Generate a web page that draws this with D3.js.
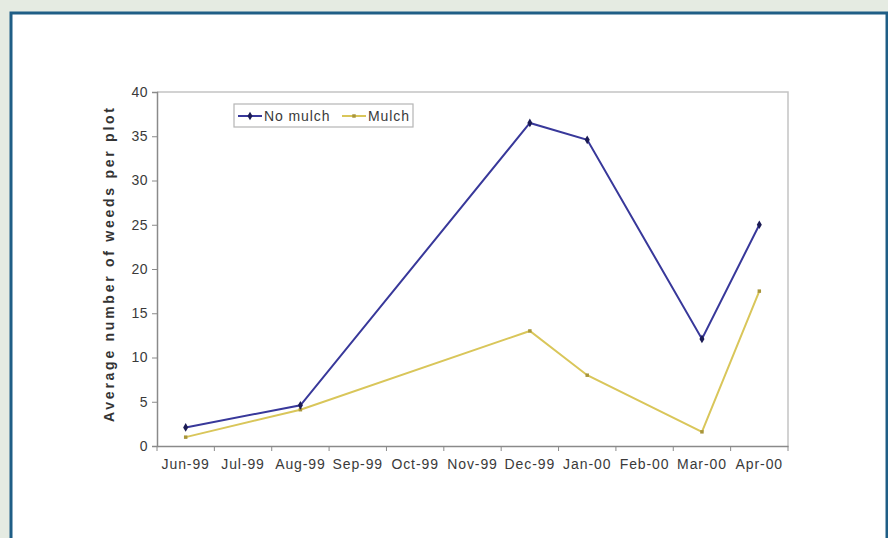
<!DOCTYPE html>
<html>
<head>
<meta charset="utf-8">
<script src="https://cdn.jsdelivr.net/npm/d3@7"></script>
<style>
  html, body { margin: 0; padding: 0; background: #e5ebe2; }
  svg { display: block; }
</style>
</head>
<body>
<svg id="chart" width="888" height="538"></svg>
<script>
// Sampling months shown on the axis
const months = ["Jun-99", "Jul-99", "Aug-99", "Sep-99", "Oct-99", "Nov-99",
                "Dec-99", "Jan-00", "Feb-00", "Mar-00", "Apr-00"];
// Months in which weeds were counted
const sampleMonths = ["Jun-99", "Aug-99", "Dec-99", "Jan-00", "Mar-00", "Apr-00"];
const noMulch = [2.1, 4.6, 36.5, 34.6, 12.1, 25.0];
const mulch   = [1.0, 4.1, 13.0, 8.0, 1.6, 17.5];
const yTicks  = [0, 5, 10, 15, 20, 25, 30, 35, 40];

const seriesList = [
  { name: "No mulch", values: noMulch, line: "#38389a", mark: "#1b1b55", shape: d3.symbolDiamond, size: 22 },
  { name: "Mulch",    values: mulch,   line: "#d9c65a", mark: "#a8953a", shape: d3.symbolSquare,  size: 12 }
];

const svg = d3.select("#chart");
const font = "'Liberation Sans', Arial, sans-serif";

// White panel with a blue frame
svg.append("rect")
  .attr("x", 11).attr("y", 13)
  .attr("width", 876).attr("height", 540)
  .attr("fill", "#ffffff")
  .attr("stroke", "#1f5e86")
  .attr("stroke-width", 3);

const plot = { left: 157, right: 788, top: 92, bottom: 446 };

const x = d3.scaleBand().domain(months).range([plot.left, plot.right]).padding(0);
const y = d3.scaleLinear().domain([0, 40]).range([plot.bottom, plot.top]);

// Plot frame (top and right edges)
svg.append("path")
  .attr("d", `M${plot.left},${plot.top}H${plot.right}V${plot.bottom}`)
  .attr("fill", "none")
  .attr("stroke", "#c4c4c4")
  .attr("stroke-width", 1.5);

// Y axis
const yAxis = svg.append("g")
  .attr("transform", `translate(${plot.left},0)`)
  .call(d3.axisLeft(y).tickValues(yTicks).tickSize(5).tickPadding(4));
yAxis.select(".domain").attr("stroke", "#8a8a8a").attr("stroke-width", 1.5);
yAxis.selectAll(".tick line").attr("stroke", "#8a8a8a");
yAxis.selectAll(".tick text")
  .attr("font-family", font).attr("font-size", 14)
  .attr("letter-spacing", "0.5px")
  .attr("fill", "#3a3a3a");

// X axis: labels centred in each month, ticks on month boundaries
const xAxis = svg.append("g")
  .attr("transform", `translate(0,${plot.bottom})`)
  .call(d3.axisBottom(x).tickSize(0).tickPadding(13));
xAxis.select(".domain").attr("stroke", "#8a8a8a").attr("stroke-width", 1.5);
xAxis.selectAll(".tick text")
  .attr("font-family", font).attr("font-size", 14)
  .attr("letter-spacing", "0.9px")
  .attr("fill", "#3a3a3a");
const bounds = months.map(m => x(m)).concat([x(months[months.length - 1]) + x.bandwidth()]);
xAxis.selectAll(".bound")
  .data(bounds)
  .join("line")
  .attr("class", "bound")
  .attr("x1", d => d).attr("x2", d => d)
  .attr("y1", 0).attr("y2", 5)
  .attr("stroke", "#8a8a8a");

// Y axis title
svg.append("text")
  .attr("transform", `translate(114,265) rotate(-90)`)
  .attr("text-anchor", "middle")
  .attr("font-family", font)
  .attr("font-size", 14)
  .attr("font-weight", "bold")
  .attr("fill", "#333333")
  .attr("textLength", 314)
  .attr("lengthAdjust", "spacing")
  .text("Average number of weeds per plot");

// Series lines and markers
const cx = m => x(m) + x.bandwidth() / 2;
seriesList.slice().reverse().forEach(s => {
  const pts = sampleMonths.map((m, i) => [cx(m), y(s.values[i])]);
  svg.append("path")
    .attr("d", d3.line()(pts))
    .attr("fill", "none")
    .attr("stroke", s.line)
    .attr("stroke-width", 2);
  svg.append("g").selectAll("path")
    .data(pts)
    .join("path")
    .attr("transform", d => `translate(${d[0]},${d[1]})`)
    .attr("d", d3.symbol(s.shape, s.size))
    .attr("fill", s.mark);
});

// Legend
const legend = svg.append("g");
legend.append("rect")
  .attr("x", 234).attr("y", 104)
  .attr("width", 179).attr("height", 23)
  .attr("fill", "#ffffff")
  .attr("stroke", "#b5b5b5")
  .attr("stroke-width", 1.2);
const legendItems = [
  { s: seriesList[0], x0: 238, tx: 264 },
  { s: seriesList[1], x0: 342, tx: 368 }
];
legendItems.forEach(it => {
  legend.append("line")
    .attr("x1", it.x0).attr("x2", it.x0 + 24)
    .attr("y1", 116).attr("y2", 116)
    .attr("stroke", it.s.line).attr("stroke-width", 2);
  legend.append("path")
    .attr("transform", `translate(${it.x0 + 12},116)`)
    .attr("d", d3.symbol(it.s.shape, it.s.size))
    .attr("fill", it.s.mark);
  legend.append("text")
    .attr("x", it.tx).attr("y", 121)
    .attr("font-family", font).attr("font-size", 14)
    .attr("letter-spacing", "0.9px")
    .attr("fill", "#3a3a3a")
    .text(it.s.name);
});
</script>
</body>
</html>
